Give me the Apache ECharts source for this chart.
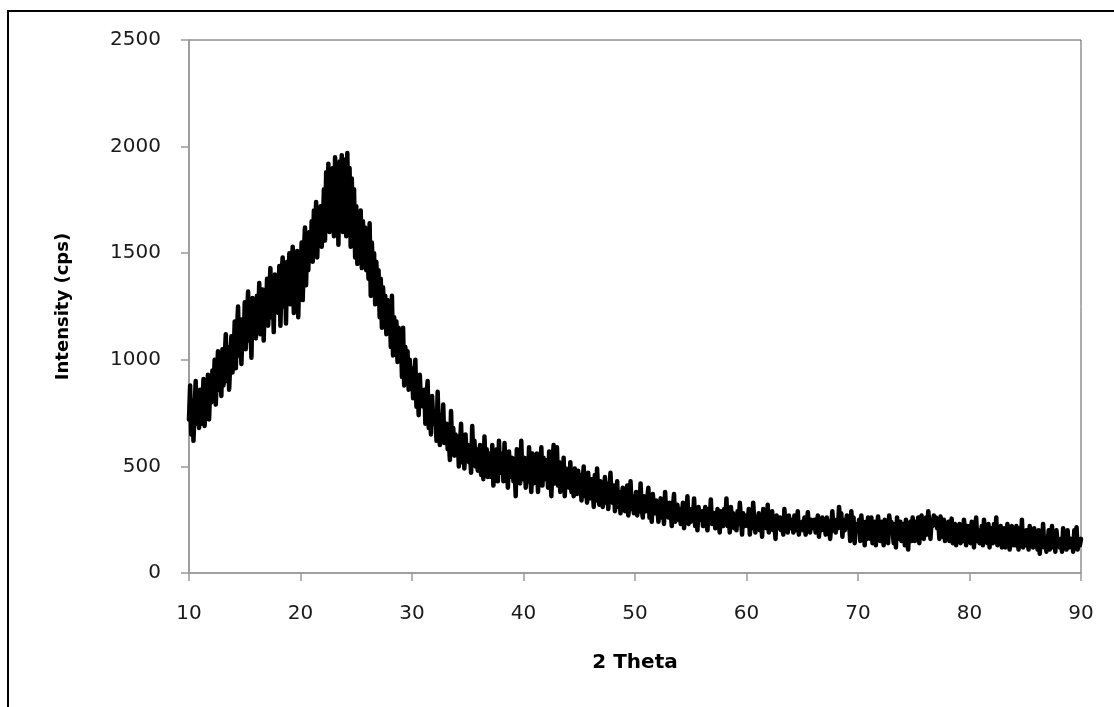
<!DOCTYPE html>
<html>
<head>
<meta charset="utf-8">
<script src="https://cdn.jsdelivr.net/npm/echarts@6/dist/echarts.min.js"></script>
<style>
html,body{margin:0;padding:0;background:#fff;}
#chart{width:1114px;height:707px;}
</style>
</head>
<body>
<div id="chart"></div>
<script>
// 2-theta grid: readings every 0.1 degree from 10 to 90
const thetaStart = 10;
const thetaStep = 0.1;
// Intensity (cps), 10 readings per degree (one row per degree)
const intensity = [
  720, 880, 650, 810, 620, 760, 900, 700, 830, 680,
  860, 700, 780, 910, 690, 820, 750, 930, 720, 870,
  800, 950, 850, 1000, 790, 920, 1040, 860, 980, 830,
  1050, 880, 1000, 1120, 900, 1060, 860, 990, 1110, 940,
  1010, 1180, 960, 1130, 1250, 1020, 1190, 980, 1140, 1060,
  1270, 1050, 1200, 1320, 1090, 1230, 1010, 1290, 1130, 1210,
  1100, 1300, 1170, 1360, 1120, 1250, 1330, 1090, 1280, 1190,
  1380, 1160, 1300, 1430, 1200, 1350, 1130, 1400, 1250, 1340,
  1220, 1440, 1160, 1390, 1480, 1250, 1420, 1170, 1460, 1300,
  1500, 1260, 1410, 1530, 1220, 1450, 1320, 1510, 1200, 1440,
  1380, 1550, 1280, 1500, 1620, 1350, 1580, 1420, 1600, 1470,
  1650, 1460, 1700, 1540, 1740, 1480, 1680, 1580, 1720, 1530,
  1620, 1800, 1560, 1880, 1650, 1920, 1600, 1850, 1700, 1900,
  1580, 1950, 1620, 1880, 1540, 1930, 1700, 1960, 1600, 1870,
  1940, 1580, 1970, 1650, 1900, 1530, 1850, 1600, 1800, 1480,
  1720, 1450, 1680, 1500, 1700, 1430, 1650, 1480, 1620, 1420,
  1600, 1380, 1640, 1300, 1550, 1400, 1500, 1260, 1460, 1330,
  1420, 1200, 1380, 1150, 1340, 1240, 1300, 1120, 1280, 1180,
  1250, 1060, 1300, 1020, 1200, 1100, 1180, 990, 1150, 1040,
  1120, 920, 1150, 880, 1060, 960, 1040, 860, 1000, 900,
  960, 820, 900, 1000, 780, 870, 740, 930, 810, 850,
  780, 860, 700, 820, 900, 680, 760, 650, 830, 720,
  700, 760, 620, 850, 680, 600, 740, 650, 790, 610,
  640, 700, 580, 620, 530, 760, 600, 680, 550, 650,
  560, 640, 500, 600, 700, 520, 580, 490, 650, 540,
  600, 520, 560, 470, 690, 540, 620, 500, 580, 480,
  520, 600, 460, 560, 440, 640, 500, 580, 450, 540,
  560, 450, 600, 410, 520, 480, 580, 430, 620, 470,
  480, 560, 430, 610, 460, 530, 400, 570, 450, 500,
  540, 430, 500, 360, 580, 460, 520, 420, 620, 440,
  460, 540, 400, 510, 430, 590, 450, 380, 560, 420,
  520, 430, 560, 380, 490, 450, 590, 410, 540, 460,
  440, 530, 400, 570, 460, 360, 520, 600, 420, 500,
  590, 410, 520, 380, 470, 430, 540, 360, 490, 410,
  470, 400, 520, 380, 440, 360, 490, 430, 370, 480,
  390, 460, 340, 430, 500, 360, 410, 330, 470, 380,
  350, 440, 410, 310, 460, 340, 490, 370, 320, 430,
  400, 310, 350, 450, 330, 420, 300, 380, 470, 340,
  330, 410, 290, 360, 430, 310, 380, 280, 350, 400,
  370, 290, 340, 410, 270, 320, 430, 300, 360, 280,
  320, 380, 270, 340, 290, 420, 300, 260, 360, 310,
  290, 350, 400, 260, 320, 240, 370, 300, 280, 340,
  310, 240, 290, 350, 260, 330, 230, 380, 280, 300,
  260, 330, 290, 220, 310, 370, 240, 280, 320, 250,
  300, 230, 270, 330, 210, 290, 250, 360, 230, 280,
  240, 300, 260, 350, 220, 280, 200, 310, 250, 270,
  290, 220, 260, 310, 240, 200, 300, 250, 345, 230,
  230, 280, 210, 260, 300, 240, 190, 290, 250, 220,
  300, 240, 350, 220, 270, 190, 310, 250, 280, 210,
  250, 200, 290, 230, 330, 260, 180, 280, 220, 240,
  270, 220, 300, 180, 250, 210, 330, 240, 190, 260,
  230, 280, 200, 250, 170, 300, 220, 260, 210, 320,
  190, 250, 220, 290, 200, 240, 160, 270, 230, 210,
  260, 200, 240, 180, 300, 220, 250, 190, 270, 210,
  220, 250, 190, 270, 200, 240, 290, 180, 230, 210,
  240, 200, 260, 180, 220, 285, 210, 190, 250, 230,
  210, 250, 190, 230, 270, 170, 240, 200, 260, 220,
  230, 180, 260, 210, 240, 160, 220, 290, 200, 250,
  190, 240, 210, 310, 230, 280, 170, 250, 200, 220,
  270, 210, 240, 150, 290, 220, 260, 140, 230, 200,
  210, 250, 150, 270, 200, 230, 130, 240, 160, 260,
  230, 160, 260, 140, 220, 240, 130, 210, 265, 200,
  150, 240, 210, 130, 250, 160, 230, 140, 270, 220,
  240, 200, 140, 230, 120, 260, 210, 160, 240, 150,
  200, 230, 130, 250, 160, 110, 220, 240, 150, 260,
  210, 150, 240, 200, 260, 140, 230, 270, 220, 160,
  230, 260, 180, 290, 240, 160, 250, 220, 270, 230,
  260, 210, 240, 160, 265, 230, 170, 250, 150, 230,
  200, 240, 150, 220, 255, 140, 210, 230, 130, 220,
  160, 230, 140, 210, 150, 250, 200, 130, 220, 160,
  220, 140, 240, 200, 120, 210, 260, 150, 200, 140,
  150, 220, 130, 250, 160, 210, 140, 230, 120, 200,
  210, 140, 230, 160, 260, 130, 200, 150, 220, 120,
  140, 210, 120, 160, 230, 150, 110, 200, 220, 130,
  200, 130, 220, 150, 110, 210, 140, 250, 120, 160,
  130, 200, 150, 110, 220, 140, 160, 120, 210, 140,
  150, 110, 200, 90, 160, 130, 230, 120, 140, 100,
  130, 200, 110, 150, 220, 120, 160, 100, 200, 140,
  150, 120, 160, 100, 210, 130, 140, 110, 200, 120,
  120, 160, 140, 100, 200, 130, 215, 110, 150, 130,
  160
];
const xTicks = [10, 20, 30, 40, 50, 60, 70, 80, 90];
const yTicks = [0, 500, 1000, 1500, 2000, 2500];
const xTitle = '2 Theta';
const yTitle = 'Intensity (cps)';

const points = intensity.map((v, i) => [+(thetaStart + i * thetaStep).toFixed(2), v]);

const FONT = 'DejaVu Sans';
const chart = echarts.init(document.getElementById('chart'), null, {renderer: 'canvas'});
chart.setOption({
  backgroundColor: '#ffffff',
  animation: false,
  graphic: [{
    type: 'rect',
    shape: {x: 8, y: 11, width: 1300, height: 900},
    style: {fill: 'none', stroke: '#000', lineWidth: 2},
    silent: true,
    z: 100
  }],
  grid: {
    left: 189, top: 40, right: 33, bottom: 134,
    show: true, borderColor: '#5a5a5a', borderWidth: 1, backgroundColor: 'transparent'
  },
  xAxis: {
    type: 'value',
    min: xTicks[0], max: xTicks[xTicks.length - 1], interval: xTicks[1] - xTicks[0],
    name: xTitle, nameLocation: 'middle', nameGap: 80,
    nameTextStyle: {fontFamily: FONT, fontSize: 20, fontWeight: 'bold', color: '#000'},
    axisLine: {show: true, onZero: false, lineStyle: {color: '#9a9a9a', width: 1.5}},
    axisTick: {show: true, inside: false, length: 8, lineStyle: {color: '#9a9a9a', width: 1.5}},
    axisLabel: {fontFamily: FONT, fontSize: 20, color: '#1a1a1a', margin: 31, formatter: (v) => String(v)},
    splitLine: {show: false}
  },
  yAxis: {
    type: 'value',
    min: yTicks[0], max: yTicks[yTicks.length - 1], interval: yTicks[1] - yTicks[0],
    name: yTitle, nameLocation: 'middle', nameGap: 117, nameRotate: 90,
    nameTextStyle: {fontFamily: FONT, fontSize: 18, fontWeight: 'bold', color: '#000'},
    axisLine: {show: true, onZero: false, lineStyle: {color: '#9a9a9a', width: 1.5}},
    axisTick: {show: true, inside: false, length: 8, lineStyle: {color: '#9a9a9a', width: 1.5}},
    axisLabel: {fontFamily: FONT, fontSize: 20, color: '#1a1a1a', margin: 28, formatter: (v) => String(v)},
    splitLine: {show: false}
  },
  series: [{
    type: 'line',
    data: points,
    showSymbol: false,
    symbol: 'none',
    clip: true,
    lineStyle: {color: '#000', width: 4.5, cap: 'round', join: 'round'}
  }]
});
</script>
</body>
</html>
